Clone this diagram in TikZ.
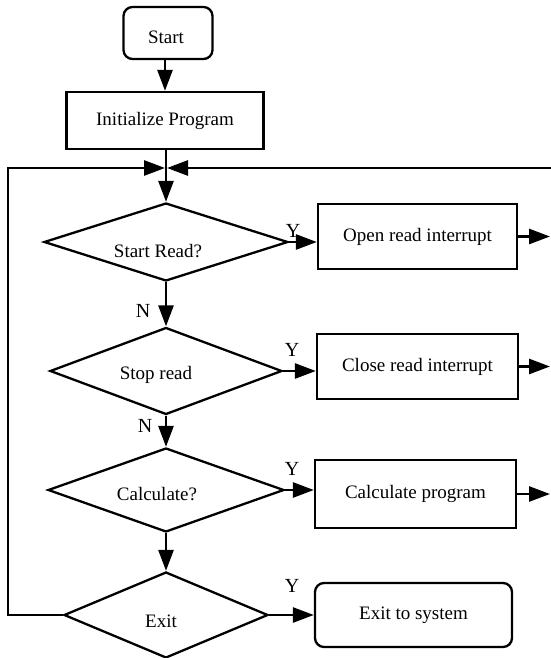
\documentclass[tikz,border=0pt]{standalone}
\usepackage{fontspec}
\setmainfont{Liberation Serif}
\usetikzlibrary{shapes.geometric,arrows.meta}
\begin{document}
\begin{tikzpicture}[x=1pt,y=-1pt,
  font=\fontsize{19}{22}\selectfont,
  box/.style={draw,line width=2.3pt,inner sep=0pt},
  rbox/.style={box,rounded corners=9pt},
  dia/.style={draw,diamond,line width=2.3pt,inner sep=0pt},
  conn/.style={line width=2.7pt,-{Triangle[length=21pt,width=15pt]}},
  lbl/.style={inner sep=0pt,anchor=base},
  yn/.style={inner sep=0pt,anchor=base,font=\fontsize{20}{22}\selectfont}]
\useasboundingbox (0,0) rectangle (551,658);

% main column
\node[rbox,minimum width=89pt,minimum height=52pt] (start) at (168,33) {};
\node[lbl] (starttxt) at (166,44) {Start};
\node[box,minimum width=197pt,minimum height=57pt] (init) at (165,120.5) {Initialize Program};

\node[dia,minimum width=244pt,minimum height=78pt] (d1) at (166,242) {};
\node[lbl] (d1txt) at (158,257) {Start Read?};
\node[dia,minimum width=232pt,minimum height=87pt] (d2) at (166,371) {};
\node[lbl] (d2txt) at (156,379) {Stop read};
\node[dia,minimum width=236pt,minimum height=84pt] (d3) at (166,490) {};
\node[lbl] (d3txt) at (157,500) {Calculate?};
\node[dia,minimum width=204pt,minimum height=86pt] (d4) at (166,615) {};
\node[lbl] (d4txt) at (161,627) {Exit};

% right column
\node[box,minimum width=199pt,minimum height=65pt] (open) at (417.5,236.5) {Open read interrupt};
\node[box,minimum width=201pt,minimum height=65pt] (close) at (417.5,366.5) {Close read interrupt};
\node[box,minimum width=201pt,minimum height=68pt] (calc) at (415.5,494) {Calculate program};
\node[rbox,minimum width=197pt,minimum height=64pt] (exit) at (413.5,615) {Exit to system};

% junction and loop coordinates
\coordinate (jl) at (165,168);
\coordinate (jr) at (167,168);
\coordinate (lc) at (8,615);
\coordinate (lt) at (8,168);
\coordinate (re) at (551,168);
\coordinate (edge) at (550,0);

% connectors
\draw[conn] (start.south -| init.north) -- (init.north);
\draw[conn] (init.south -| d1.north) -- (d1.north);
\draw[conn] (d4.west) -- (lc) -- (lt) -- (jl);
\draw[conn] (re) -- (jr);

\draw[conn] (d1.south) -- (d2.north);
\draw[conn] (d2.south) -- (d3.north);
\draw[conn] (d3.south) -- (d4.north);

\draw[conn] (d1.east) -- (d1.east -| open.west);
\draw[conn] (d2.east) -- (d2.east -| close.west);
\draw[conn] (d3.east) -- (d3.east -| calc.west);
\draw[conn] (d4.east) -- (d4.east -| exit.west);

\draw[conn] (open.east) -- (open.east -| edge);
\draw[conn] (close.east) -- (close.east -| edge);
\draw[conn] (calc.east) -- (calc.east -| edge);

% labels
\node[yn] (y1) at (293,237) {Y};
\node[yn] (y2) at (292,356) {Y};
\node[yn] (y3) at (292,475) {Y};
\node[yn] (y4) at (292,592) {Y};
\node[yn] (n1) at (143,317) {N};
\node[yn] (n2) at (145,432) {N};
\end{tikzpicture}
\end{document}
